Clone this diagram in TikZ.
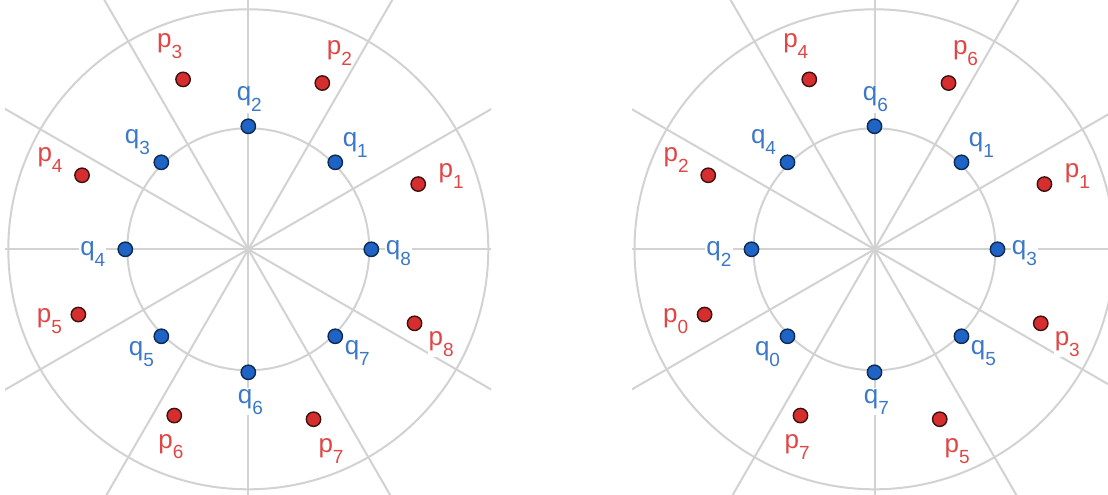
\documentclass[tikz,border=0pt]{standalone}
\usepackage{fontspec}
\setmainfont{Liberation Sans}
\usetikzlibrary{calc}
\definecolor{gridgray}{HTML}{D2D2D2}
\definecolor{qfill}{HTML}{1F63C6}
\definecolor{qedge}{HTML}{0E2A4E}
\definecolor{pfill}{HTML}{D62E2E}
\definecolor{pedge}{HTML}{3A1212}
\definecolor{qtext}{HTML}{3B78C6}
\definecolor{ptext}{HTML}{E04646}
\newcommand\sublab[2]{#1\raisebox{-0.42em}{\fontsize{9.5pt}{9.5pt}\selectfont #2}}
\tikzset{
  gridline/.style={draw=gridgray, line width=1pt},
  qdot/.style={circle, fill=qfill, draw=qedge, line width=0.7pt, minimum size=7.2pt, inner sep=0pt},
  pdot/.style={circle, fill=pfill, draw=pedge, line width=0.7pt, minimum size=7.2pt, inner sep=0pt},
  qlab/.style={text=qtext, fill=white, inner sep=0.5pt, font=\fontsize{13pt}{14pt}\selectfont},
  plab/.style={text=ptext, fill=white, inner sep=0.5pt, font=\fontsize{13pt}{14pt}\selectfont}
}
\begin{document}
\begin{tikzpicture}[x=0.5pt, y=0.5pt]
\useasboundingbox (0,0) rectangle (1108,494);
\fill[white] (0,0) rectangle (1108,494);
\coordinate (c1) at (248.3,244.7);
\coordinate (c2) at (874.5,244.7);
% left panel grid
\begin{scope}
  \clip (5,0) rectangle (491,494);
  \foreach \a in {0,30,...,330} \draw[gridline] (c1) -- ++(\a:320);
  \draw[gridline] (c1) circle[radius=240];
  \draw[gridline] (c1) circle[radius=121];
\end{scope}
% right panel grid
\begin{scope}
  \clip (632,0) rectangle (1108,494);
  \foreach \a in {0,30,...,330} \draw[gridline] (c2) -- ++(\a:320);
  \draw[gridline] (c2) circle[radius=240];
  \draw[gridline] (c2) circle[radius=121];
\end{scope}
% left q points
\foreach \n/\a/\dx/\dy in {1/45/20/17.5, 2/90/1/27, 3/135/-24/20.5, 4/180/-32.5/-5, 5/225/-20/-18, 6/270/2/-29.5, 7/315/22/-17, 8/0/27/-4} {
  \node[qdot] (Lq\n) at ($(c1)+(\a:123)$) {};
  \node[qlab] (Lql\n) at ($(Lq\n)+(\dx,\dy)$) {\sublab{q}{\n}};
}
% left p points
\foreach \n/\a/\dx/\dy in {1/21/33/8, 2/66/17/30, 3/111/-13.5/33, 4/156/-32/15.5, 5/201/-29/-6.5, 6/246/-3.4/-31, 7/291/17.5/-32, 8/336/26.5/-20.5} {
  \node[pdot] (Lp\n) at ($(c1)+(\a:182)$) {};
  \node[plab] (Lpl\n) at ($(Lp\n)+(\dx,\dy)$) {\sublab{p}{\n}};
}
% right q points
\foreach \n/\a/\dx/\dy in {1/45/20/17.5, 6/90/1/27, 4/135/-24/20.5, 2/180/-32.5/-5, 0/225/-20/-18, 7/270/2/-29.5, 5/315/22/-17, 3/0/27/-4} {
  \node[qdot] (Rq\n) at ($(c2)+(\a:123)$) {};
  \node[qlab] (Rql\n) at ($(Rq\n)+(\dx,\dy)$) {\sublab{q}{\n}};
}
% right p points
\foreach \n/\a/\dx/\dy in {1/21/33/8, 6/66/17/30, 4/111/-13.5/33, 2/156/-32/15.5, 0/201/-29/-6.5, 7/246/-3.4/-31, 5/291/17.5/-32, 3/336/26.5/-20.5} {
  \node[pdot] (Rp\n) at ($(c2)+(\a:182)$) {};
  \node[plab] (Rpl\n) at ($(Rp\n)+(\dx,\dy)$) {\sublab{p}{\n}};
}
\end{tikzpicture}
\end{document}
